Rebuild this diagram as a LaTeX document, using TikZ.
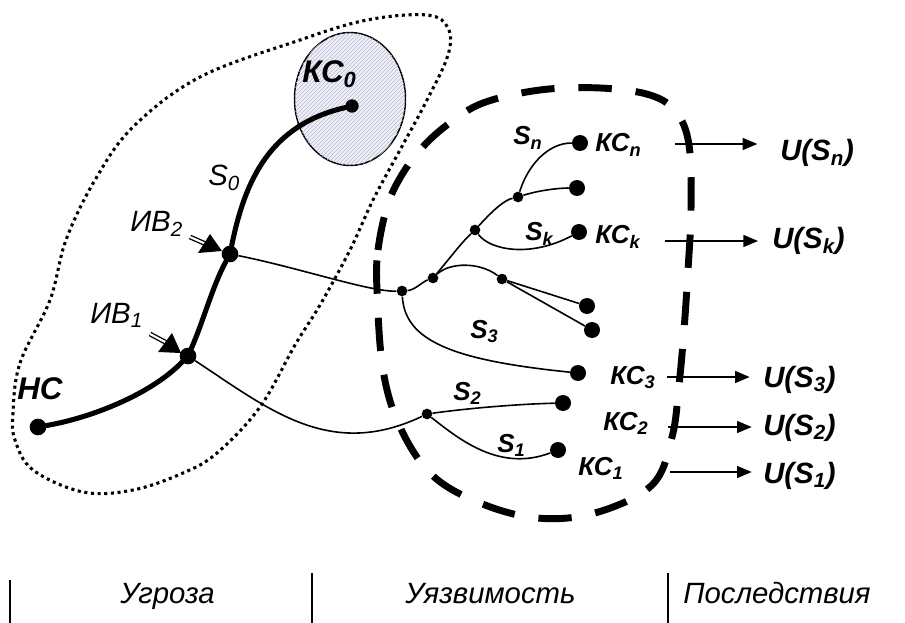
\documentclass[tikz,border=0pt]{standalone}
\usepackage{fontspec}
\setmainfont{Liberation Sans}
\usetikzlibrary{arrows.meta,patterns,calc}
\definecolor{hatchfill}{HTML}{F0F0F6}
\definecolor{hatchline}{HTML}{B4B8D4}
\begin{document}
\begin{tikzpicture}[x=0.75pt,y=-0.75pt,
  bigdot/.style={circle,fill,inner sep=0pt,minimum size=12pt},
  junc/.style={circle,fill,inner sep=0pt,minimum size=8pt},
  ivdot/.style={circle,fill,inner sep=0pt,minimum size=12.5pt},
  kdot/.style={circle,fill,inner sep=0pt,minimum size=10pt},
  lab/.style={font=\fontsize{19.5}{22}\selectfont\bfseries\itshape,inner sep=0pt,anchor=base west},
  biglab/.style={font=\fontsize{23.5}{26}\selectfont\bfseries\itshape,inner sep=0pt,anchor=base west},
  ivlab/.style={font=\fontsize{22}{26}\selectfont\itshape,inner sep=0pt,anchor=base west},
  ulab/.style={font=\fontsize{22}{26}\selectfont\bfseries\itshape,inner sep=0pt,anchor=base west},
  botlab/.style={font=\fontsize{22}{26}\selectfont\itshape,inner sep=0pt,anchor=base west},
  thinline/.style={line width=1.2pt},
  thickline/.style={line width=3.8pt,line cap=round},
  uarr/.style={line width=1.1pt,-{Triangle[length=11pt,width=9pt]}},
  ivshaft/.style={double,double distance=1.6pt,line width=1pt},
  ivtri/.style={fill,line join=miter},
  dotregion/.style={line width=2.3pt,dash pattern=on 2.3pt off 2.7pt},
  dashregion/.style={line width=5.2pt,dash pattern=on 25pt off 18pt},
  bar/.style={line width=1.1pt}]
\useasboundingbox (0,0) rectangle (905,623);

% threat region (dotted)
\draw[dotregion] plot[smooth cycle,tension=0.6] coordinates {
 (13,413) (20,363) (50,300) (66,240) (95,180) (133,127) (200,77) (300,40) (367,20)
 (427,15) (448,28) (448,55) (427,100) (400,150) (373,200) (350,250) (320,305)
 (295,345) (260,407) (217,453) (183,473) (133,490) (83,492) (33,470) (15,440)};

% vulnerability region (thick dashed)
\draw[dashregion] plot[smooth cycle,tension=0.6] coordinates {
 (377,290) (378,250) (387,207) (400,178) (420,150) (447,125) (483,103) (540,90)
 (600,88) (650,95) (676,112) (689,145) (691,210) (688,270) (684,330) (679,385)
 (672,437) (652,485) (595,513) (537,518) (480,503) (432,475) (400,427) (383,370)};

% target ellipse KC0
\draw[line width=1.1pt,fill=hatchfill,postaction={pattern=north east lines,pattern color=hatchline}]
  (350,99) ellipse [x radius=55.5,y radius=66.5];

% dots
\node[ivdot] (hc) at (38,427) {};
\node[ivdot] (ib1) at (188,356) {};
\node[ivdot] (ib2) at (230,254) {};
\node[kdot] (k0) at (352,106) {};
\node[junc] (ja) at (402,291) {};
\node[junc] (jb) at (433,278) {};
\node[junc] (jc) at (475,230) {};
\node[junc] (jd) at (502,279) {};
\node[junc] (je) at (518,197) {};
\node[junc] (jf) at (427,414) {};
\node[bigdot] (dn) at (580,143) {};
\node[bigdot] (de) at (577,188) {};
\node[bigdot] (dk) at (579,232) {};
\node[bigdot] (dd1) at (587,306) {};
\node[bigdot] (dd2) at (592,330) {};
\node[bigdot] (d3) at (578,373) {};
\node[bigdot] (d2) at (563,403) {};
\node[bigdot] (d1) at (558,450) {};

% main threat path
\draw[thickline] (hc) .. controls (90,418) and (150,395) .. (ib1)
  .. controls (203,322) and (213,285) .. (ib2)
  .. controls (245,180) and (270,125) .. (k0);

% branches
\draw[thinline] (ib2) .. controls (300,268) and (370,292) .. (ja);
\draw[thinline] (ja) .. controls (415,290) and (422,282) .. (jb);
\draw[thinline] (jb) .. controls (450,258) and (462,242) .. (jc);
\draw[thinline] (jc) .. controls (495,208) and (505,200) .. (je);
\draw[thinline] (je) .. controls (528,165) and (548,143) .. (dn);
\draw[thinline] (je) .. controls (540,190) and (560,188) .. (de);
\draw[thinline] (jc) .. controls (490,250) and (530,258) .. (dk);
\draw[thinline] (jb) .. controls (450,262) and (480,262) .. (jd);
\draw[thinline] (jd) -- (dd1);
\draw[thinline] (jd) -- (dd2);
\draw[thinline] (ja) .. controls (405,340) and (450,360) .. (d3);
\draw[thinline] (ib1) .. controls (270,410) and (330,460) .. (jf);
\draw[thinline] (jf) .. controls (470,408) and (520,404) .. (d2);
\draw[thinline] (jf) .. controls (460,440) and (500,472) .. (d1);

% impact arrows at IB (double shaft + large triangle head)
\coordinate (iv2t) at (190,237);
\coordinate (iv1t) at (150,334);
\draw[ivshaft] (iv2t) -- ($(ib2)+(-24,-10)$);
\fill[ivtri] ($(ib2)+(-8,-3)$) -- ($(ib2)+(-32,-1)$) -- ($(ib2)+(-20,-20)$) -- cycle;
\draw[ivshaft] (iv1t) -- ($(ib1)+(-21,-13)$);
\fill[ivtri] ($(ib1)+(-7,-3)$) -- ($(ib1)+(-30,-4)$) -- ($(ib1)+(-16,-23)$) -- cycle;

% labels left
\node[biglab] (lhc) at (17,399) {НС};
\node[biglab] (lk0) at (302,83) {КС\textsubscript{0}};
\node[ivlab] (ls0) at (208,186) {S\textsubscript{0}};
\node[ivlab] (liv2) at (130,232) {ИВ\textsubscript{2}};
\node[ivlab] (liv1) at (90,323) {ИВ\textsubscript{1}};

% labels right
\node[lab] (lsn) at (513,145) {S\textsubscript{n}};
\node[lab] (lkn) at (595,152) {КС\textsubscript{n}};
\node[lab] (lsk) at (525,241) {S\textsubscript{k}};
\node[lab] (lkk) at (595,244) {КС\textsubscript{k}};
\node[lab] (ls3) at (470,338) {S\textsubscript{3}};
\node[lab] (lk3) at (610,384) {КС\textsubscript{3}};
\node[lab] (ls2) at (453,400) {S\textsubscript{2}};
\node[lab] (lk2) at (603,430) {КС\textsubscript{2}};
\node[lab] (ls1) at (497,452) {S\textsubscript{1}};
\node[lab] (lk1) at (578,475) {КС\textsubscript{1}};

% consequences
\node[ulab] (usn) at (780,161) {U(S\textsubscript{n})};
\node[ulab] (usk) at (772,248) {U(S\textsubscript{k})};
\node[ulab] (us3) at (763,387) {U(S\textsubscript{3})};
\node[ulab] (us2) at (763,435) {U(S\textsubscript{2})};
\node[ulab] (us1) at (763,483) {U(S\textsubscript{1})};
\coordinate (tn) at (675,144);
\coordinate (tk) at (665,241);
\coordinate (t3) at (667,377);
\coordinate (t2) at (668,427);
\coordinate (t1) at (670,472);
\draw[uarr,shorten >=17pt] (tn) -- (usn.west |- tn);
\draw[uarr,shorten >=10.5pt] (tk) -- (usk.west |- tk);
\draw[uarr,shorten >=10pt] (t3) -- (us3.west |- t3);
\draw[uarr,shorten >=8.5pt] (t2) -- (us2.west |- t2);
\draw[uarr,shorten >=8.5pt] (t1) -- (us1.west |- t1);

% bottom legend
\coordinate (b1t) at (10,580); \coordinate (b1b) at (10,623);
\coordinate (b2t) at (312,573); \coordinate (b2b) at (312,623);
\coordinate (b3t) at (668,573); \coordinate (b3b) at (668,623);
\draw[bar] (b1t) -- (b1b);
\draw[bar] (b2t) -- (b2b);
\draw[bar] (b3t) -- (b3b);
\node[botlab] (bt1) at (120,603) {Угроза};
\node[botlab] (bt2) at (405,603) {Уязвимость};
\node[botlab] (bt3) at (683,603) {Последствия};
\end{tikzpicture}
\end{document}
